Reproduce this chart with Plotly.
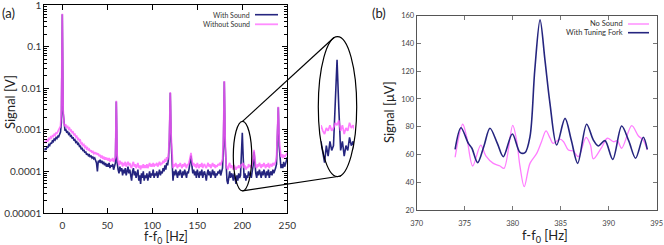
import math
import plotly.graph_objects as go

W, H = 664, 245

# ---------------- Panel (a) data : spectrum, values in units of 1e-5 V ----------------
freq_a = list(range(-20, 251))
with_sound_1e5V = [
    32, 36, 33, 40, 37, 44, 42, 49, 46, 54, 52, 60, 57, 65, 62, 72, 68, 80, 88, 150,   # -20..-1
    60000,                                                                            # 0
    250, 110, 95, 100, 85, 90, 78, 82, 70, 72, 62, 66, 55, 58, 50, 52, 45, 47, 40, 42, # 1..20
    34, 37, 31, 33, 28, 30, 25, 27, 24, 25, 22, 24, 21, 22, 20, 21, 19, 16, 10, 18,    # 21..40
    17, 19, 16, 18, 15, 17, 14, 16, 13, 15, 13, 16, 12, 14, 13, 15, 11, 13, 16, 480,   # 41..60
    16, 11, 9, 13, 10, 12, 8, 11, 9, 12, 8, 10, 13, 9, 11, 8, 6, 10, 12, 8,            # 61..80
    10, 7, 9, 11, 6, 8, 5, 9, 7, 10, 6, 8, 7, 9, 6, 8, 10, 7, 9, 8,                    # 81..100
    11, 7, 9, 8, 10, 7, 9, 11, 8, 10, 9, 12, 10, 14, 11, 16, 14, 20, 60, 780,          # 101..120
    50, 12, 6, 10, 8, 11, 9, 7, 10, 8, 11, 9, 7, 10, 8, 11, 9, 7, 10, 9,               # 121..140
    12, 16, 24, 14, 9, 11, 8, 10, 7, 11, 9, 7, 10, 8, 11, 7, 9, 10, 8, 6,              # 141..160
    9, 11, 8, 10, 7, 9, 11, 8, 10, 7, 9, 8, 10, 9, 11, 8, 10, 12, 40, 1450,            # 161..180
    40, 8, 6, 5, 8, 10, 7, 9, 8, 6, 9, 7, 5, 8, 6, 9, 7, 8, 25, 85,                    # 181..200
    22, 7, 9, 6, 8, 7, 10, 8, 9, 7, 10, 14, 30, 15, 9, 7, 10, 8, 11, 9,                # 201..220
    7, 10, 8, 11, 9, 7, 10, 8, 11, 7, 9, 10, 8, 11, 9, 10, 12, 15, 60, 350,            # 221..240
    40, 16, 12, 15, 12, 17, 13, 15, 18, 22,                                            # 241..250
]
without_sound_1e5V = [
    48, 52, 50, 57, 54, 62, 59, 67, 64, 72, 70, 78, 74, 84, 82, 92, 97, 107, 122, 300, # -20..-1
    62000,                                                                            # 0
    300, 140, 125, 130, 115, 120, 105, 110, 95, 98, 85, 88, 76, 78, 68, 70, 60, 62, 54, 56,  # 1..20
    46, 48, 42, 44, 38, 40, 35, 37, 32, 34, 30, 32, 28, 30, 27, 29, 26, 28, 25, 27,    # 21..40
    23, 25, 21, 24, 20, 23, 19, 22, 19, 21, 18, 21, 17, 20, 18, 21, 17, 19, 22, 500,   # 41..60
    24, 17, 14, 18, 15, 17, 13, 16, 14, 17, 13, 15, 17, 14, 16, 13, 12, 15, 17, 13,   # 61..80
    15, 12, 14, 16, 12, 14, 11, 14, 12, 15, 12, 14, 12, 15, 12, 14, 16, 13, 15, 13,   # 81..100
    16, 13, 15, 14, 16, 13, 15, 17, 14, 16, 15, 18, 16, 20, 17, 22, 19, 25, 80, 800,  # 101..120
    70, 18, 12, 15, 13, 16, 14, 12, 15, 13, 16, 14, 12, 15, 13, 16, 14, 12, 15, 14,   # 121..140
    17, 22, 28, 19, 14, 16, 13, 15, 12, 16, 14, 12, 15, 13, 16, 12, 14, 15, 13, 12,   # 141..160
    14, 16, 13, 15, 12, 14, 16, 13, 15, 12, 14, 13, 15, 14, 16, 14, 17, 20, 60, 1500, # 161..180
    60, 15, 12, 11, 14, 16, 12, 14, 13, 11, 14, 12, 11, 13, 12, 14, 12, 13, 15, 14,   # 181..200
    16, 12, 14, 11, 13, 12, 15, 13, 14, 12, 15, 20, 33, 20, 13, 12, 15, 13, 16, 14,   # 201..220
    12, 15, 13, 16, 14, 12, 15, 13, 16, 12, 14, 15, 13, 16, 14, 15, 17, 22, 80, 360,  # 221..240
    60, 28, 22, 26, 21, 25, 22, 24, 26, 28,                                           # 241..250
]
a_yticks = [1e-5, 1e-4, 1e-3, 1e-2, 1e-1, 1]
a_yticktext = ["0.00001", "0.0001", "0.001", "0.01", "0.1", "1"]
a_xticks = [0, 50, 100, 150, 200, 250]

# ---------------- Panel (b) data : values in microvolts ----------------
freq_fork = [374.0, 374.61, 375.38, 375.75, 376.35, 377.0, 377.63, 378.4, 379.02, 379.96,
             380.76, 381.28, 381.8, 382.3, 382.85, 383.36, 383.88, 384.58, 385.45, 386.1,
             386.77, 387.7, 388.4, 388.92, 389.61, 390.42, 391.35, 392.1, 392.8, 393.6, 394.02]
with_fork_uV = [63.7, 79.3, 68, 64.5, 54.1, 66, 78.9, 68, 58.4, 74.8,
                61.5, 61.3, 72.8, 120.9, 157, 128, 96.9, 66.8, 86, 70.4,
                53.6, 81.8, 70.4, 66.1, 70, 56.5, 80.5, 69.6, 57.3, 72.4, 63.7]
freq_none = [374.0, 374.79, 375.2, 375.83, 376.67, 377.2, 377.98, 378.68, 379.1, 380.0,
             380.4, 380.76, 381.2, 381.8, 382.5, 383.0, 383.47, 383.9, 384.2, 384.93,
             385.3, 385.8, 386.3, 386.84, 387.64, 388.1, 388.4, 389.27, 389.86, 390.5,
             390.9, 391.35, 392.4, 393.1, 393.6, 394.02]
no_sound_uV = [58, 81.8, 72.8, 51.7, 66.8, 59, 53.6, 51.7, 50, 81,
               70.4, 51.4, 36.8, 53.6, 60.8, 69.2, 77, 71.7, 68, 71,
               69.2, 63.2, 62.5, 58.4, 72.4, 66.8, 56.8, 65.2, 71.7, 69.2,
               70, 64.5, 80.8, 73.3, 70.4, 63.2]
b_xticks = [370, 375, 380, 385, 390, 395]
b_yticks = [20, 40, 60, 80, 100, 120, 140, 160]

# zoom region around the 200 Hz line
zoom_hz = (190.0, 210.5)
zoom_sig = (1.6e-3, 3.4e-5)

# ---------------- layout geometry (pixels) ----------------
A_X = (44.3, 287.3); A_Y = (5.0, 213.0)
B_X = (416.7, 656.7); B_Y = (15.7, 210.0)
IN_X = (321.0, 354.0); IN_Y = (36.7, 176.7)
BIG_ELL = (318.3, 36.7, 356.7, 176.7)
A_XR = (-20, 250); A_YR = (-5, 0.0005)


def px(x):
    return x / W


def py(y):
    return 1 - y / H


def dom_x(r):
    return [px(r[0]), px(r[1])]


def dom_y(r):
    return [py(r[1]), py(r[0])]


def a_x2px(v):
    return A_X[0] + (v - A_XR[0]) / (A_XR[1] - A_XR[0]) * (A_X[1] - A_X[0])


def a_y2px(v):
    return A_Y[1] - (math.log10(v) - A_YR[0]) / (A_YR[1] - A_YR[0]) * (A_Y[1] - A_Y[0])


BLUE = "#25257f"
PINK = "#ff5cff"
PINK_B = "#ff7dff"
FONT = "Lato"

with_v = [v * 1e-5 for v in with_sound_1e5V]
without_v = [v * 1e-5 for v in without_sound_1e5V]

fig = go.Figure()
for xa, ya in (("x", "y"), ("x3", "y3")):
    fig.add_trace(go.Scatter(x=freq_a, y=with_v, mode="lines", name="With Sound",
                             line=dict(color=BLUE, width=1.6), xaxis=xa, yaxis=ya,
                             showlegend=False))
    fig.add_trace(go.Scatter(x=freq_a, y=without_v, mode="lines", name="Without Sound",
                             line=dict(color=PINK, width=1.7), opacity=0.8, xaxis=xa, yaxis=ya,
                             showlegend=False))

fig.add_trace(go.Scatter(x=freq_none, y=no_sound_uV, mode="lines", name="No Sound",
                         line=dict(color=PINK_B, width=1.3, shape="spline", smoothing=0.9),
                         xaxis="x2", yaxis="y2", showlegend=False))
fig.add_trace(go.Scatter(x=freq_fork, y=with_fork_uV, mode="lines", name="With Tuning Fork",
                         line=dict(color=BLUE, width=1.6, shape="spline", smoothing=0.9),
                         xaxis="x2", yaxis="y2", showlegend=False))

minor_vals = [m * 10 ** k for k in range(-5, 0) for m in range(2, 10)]

axis_common = dict(showline=True, mirror="ticks", ticks="inside", showgrid=False,
                   zeroline=False, automargin=False, ticklabeloverflow="allow")

fig.update_layout(
    width=W, height=H,
    margin=dict(l=0, r=0, t=0, b=0),
    paper_bgcolor="white", plot_bgcolor="white",
    font=dict(family=FONT, color="#333"),
    xaxis=dict(domain=dom_x(A_X), anchor="y", range=list(A_XR), tickvals=a_xticks,
               ticklen=5, linecolor="black", linewidth=1, tickcolor="black",
               ticklabelstandoff=3,
               tickfont=dict(size=10, color="#333"), **axis_common),
    yaxis=dict(domain=dom_y(A_Y), anchor="x", type="log", range=list(A_YR),
               tickvals=a_yticks, ticktext=a_yticktext, ticklen=5, linecolor="black",
               linewidth=1, tickcolor="black", tickfont=dict(size=10, color="#333"),
               minor=dict(tickmode="array", tickvals=minor_vals, ticks="inside",
                          ticklen=3, tickcolor="black"),
               **axis_common),
    xaxis2=dict(domain=dom_x(B_X), anchor="y2", range=[370, 395], tickvals=b_xticks,
                ticklen=4, linecolor="#555", linewidth=1, tickcolor="#777",
                ticklabelstandoff=6,
                tickfont=dict(size=7.5, color="#444"), **axis_common),
    yaxis2=dict(domain=dom_y(B_Y), anchor="x2", range=[20, 160], tickvals=b_yticks,
                ticklen=4, linecolor="#555", linewidth=1, tickcolor="#777",
                tickfont=dict(size=7.5, color="#444"), **axis_common),
    xaxis3=dict(domain=dom_x(IN_X), anchor="y3", range=[191.0, 209.5], visible=False),
    yaxis3=dict(domain=dom_y(IN_Y), anchor="x3", type="log",
                range=[math.log10(zoom_sig[1]), math.log10(zoom_sig[0])], visible=False),
)

shapes = []
# small ellipse around 200 Hz line
sx0, sx1 = a_x2px(zoom_hz[0]), a_x2px(zoom_hz[1])
sy0, sy1 = a_y2px(zoom_sig[0]), a_y2px(zoom_sig[1])
shapes.append(dict(type="circle", xref="paper", yref="paper", x0=px(sx0), x1=px(sx1),
                   y0=py(sy1), y1=py(sy0), line=dict(color="black", width=1.2)))
shapes.append(dict(type="circle", xref="paper", yref="paper", x0=px(BIG_ELL[0]), x1=px(BIG_ELL[2]),
                   y0=py(BIG_ELL[3]), y1=py(BIG_ELL[1]), line=dict(color="black", width=1.2)))
scx = (sx0 + sx1) / 2
shapes.append(dict(type="line", xref="paper", yref="paper", x0=px(scx), y0=py(sy0),
                   x1=px(334.0), y1=py(37.5), line=dict(color="black", width=1.2)))
shapes.append(dict(type="line", xref="paper", yref="paper", x0=px(scx), y0=py(sy1),
                   x1=px(341.0), y1=py(176.0), line=dict(color="black", width=1.2)))

annotations = []


def legend_entry(text, color, xr, y, x0, x1, size, width):
    annotations.append(dict(text=text, xref="paper", yref="paper", x=px(xr), y=py(y),
                            xanchor="right", yanchor="middle", showarrow=False,
                            font=dict(size=size, color="#333", family=FONT)))
    shapes.append(dict(type="line", xref="paper", yref="paper", x0=px(x0), x1=px(x1),
                       y0=py(y), y1=py(y), line=dict(color=color, width=width)))


legend_entry("With Sound", BLUE, 252, 14.7, 255, 278, 7, 1.6)
legend_entry("Without Sound", "#ff8cff", 252, 24.3, 255, 278, 7, 1.8)
legend_entry("No Sound", PINK_B, 625, 24, 628, 649, 7.5, 1.3)
legend_entry("With Tuning Fork", BLUE, 625, 32.7, 628, 649, 7.5, 1.6)


def text(t, x, y, size, angle=0, color="#222", yanchor="middle"):
    annotations.append(dict(text=t, xref="paper", yref="paper", x=px(x), y=py(y),
                            xanchor="center", yanchor=yanchor, showarrow=False,
                            textangle=angle, font=dict(size=size, color=color, family=FONT)))


text("(a)", 8, 13.5, 13)
text("(b)", 379, 13, 13)
text("Signal [V]", 10, 102, 13, angle=-90)
text("f-f<sub>0</sub> [Hz]", 166, 227, 12.5, yanchor="top")
text("Signal [μV]", 389, 112, 13, angle=-90)
text("f-f<sub>0</sub> [Hz]", 545, 225, 13, yanchor="top")

fig.update_layout(shapes=shapes, annotations=annotations)
fig.write_html("out.html", config={"displayModeBar": False},
               post_script="document.body.style.margin='0';document.body.style.overflow='hidden';")
